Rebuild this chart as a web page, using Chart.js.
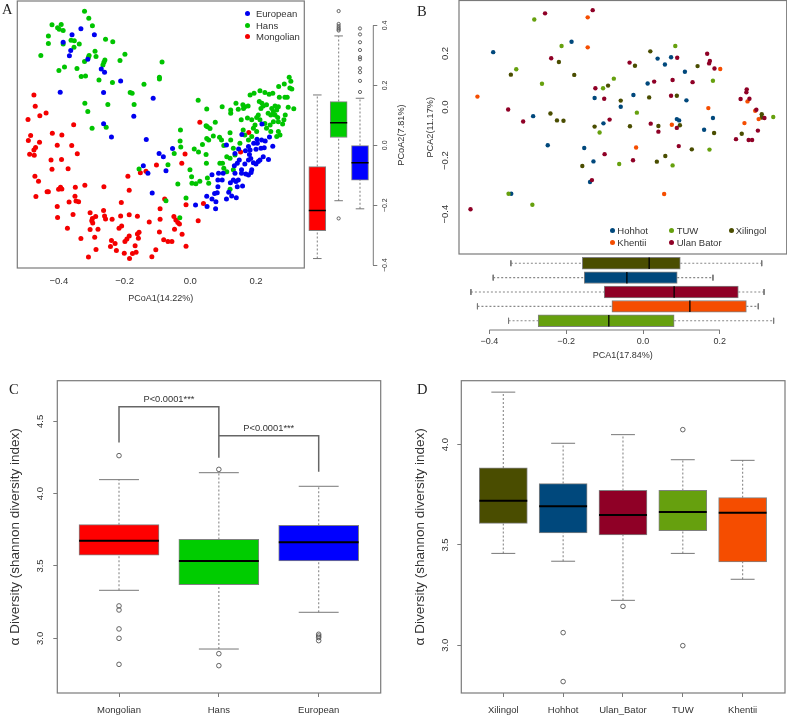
<!DOCTYPE html>
<html>
<head>
<meta charset="utf-8">
<title>Diversity panels</title>
<script src="https://cdn.jsdelivr.net/npm/chart.js@4"></script>
<style>
  html, body { margin: 0; padding: 0; background: #fff; }
  #page { position: relative; width: 787px; height: 716px; overflow: hidden; font-family: "Liberation Sans", Arial, sans-serif; color: #333; }
  canvas { position: absolute; }
  .letter { position: absolute; font: 14.5px "Liberation Serif", serif; color: #222; line-height: 1; }
  .leg { position: absolute; font-size: 9.5px; line-height: 11px; white-space: nowrap; }
  .dot { position: absolute; width: 5px; height: 5px; border-radius: 50%; }
  .vtitle { position: absolute; font-size: 9.2px; white-space: nowrap; transform: translate(-50%, -50%) rotate(-90deg); }
</style>
</head>
<body>
<div id="page">
  <canvas id="a" style="left:0;top:0" width="310" height="310"></canvas>
  <canvas id="a2" style="left:305px;top:0" width="110" height="310"></canvas>
  <canvas id="b" style="left:410px;top:0" width="377" height="255"></canvas>
  <canvas id="b2" style="left:410px;top:255px" width="377" height="115"></canvas>
  <canvas id="c" style="left:0;top:370px" width="400" height="346"></canvas>
  <canvas id="d" style="left:400px;top:370px" width="387" height="346"></canvas>
  <div class="letter" style="left:2px;top:2px">A</div>
  <div class="letter" style="left:417px;top:4px">B</div>
  <div class="letter" style="left:9px;top:382px">C</div>
  <div class="letter" style="left:417px;top:382px">D</div>
  <div class="vtitle" style="left:401px;top:135px">PCoA2(7.81%)</div>
</div>
<script>
// panel A, [PCoA1, PCoA2]
const europeanPoints = [[-.387,.344],[-.360,.369],[-.333,.389],[-.292,.369],[-.364,.316],[-.368,.299],[-.312,.287],[-.271,.255],[-.261,.244],[-.212,.215],[-.396,.177],[-.264,.176],[-.113,.157],[-.172,.097],[-.264,.072],[-.240,.028],[-.134,.019],[-.095,-.027],[-.082,-.038],[-.054,-.011],[-.143,-.068],[-.129,-.093],[-.074,-.085],[-.116,-.159],[.016,-.199],[.050,-.170],[.051,-.204],[.066,-.179],[.078,-.188],[.077,-.212],[.074,-.161],[.082,-.158],[.084,-.138],[.084,-.116],[.097,-.116],[.086,-.093],[.100,-.093],[.066,-.098],[.110,-.179],[.117,-.157],[.126,-.169],[.140,-.175],[.122,-.125],[.131,-.116],[.139,-.121],[.146,-.116],[.143,-.138],[.159,-.136],[.177,-.099],[.169,-.096],[.156,-.082],[.136,-.093],[.156,-.093],[.166,-.062],[.143,-.060],[.134,-.068],[.149,-.049],[.136,-.027],[.110,.001],[.147,-.012],[.157,.036],[.177,-.004],[.168,-.018],[.182,-.016],[.180,-.031],[.184,-.044],[.192,-.058],[.200,-.062],[.207,-.054],[.212,-.049],[.222,-.038],[.238,-.047],[.187,-.082],[.185,-.091],[.218,.071],[.241,.028],[.203,.020],[.217,.018],[.228,.014],[.193,.007],[.251,-.003],[.225,-.008],[.215,-.010],[.204,.007],[.200,-.013],[.177,-.049]];
const hansPoints = [[-.322,.447],[-.309,.424],[-.298,.399],[-.421,.402],[-.393,.403],[-.404,.392],[-.399,.387],[-.387,.383],[-.432,.365],[-.432,.340],[-.363,.351],[-.353,.349],[-.387,.338],[-.338,.338],[-.354,.327],[-.455,.300],[-.258,.354],[-.236,.346],[-.290,.314],[-.308,.300],[-.310,.294],[-.287,.296],[-.322,.280],[-.199,.304],[-.214,.283],[-.086,.278],[-.260,.285],[-.263,.277],[-.266,.268],[-.383,.261],[-.400,.250],[-.345,.256],[-.332,.230],[-.319,.231],[-.278,.218],[-.237,.210],[-.094,.227],[-.094,.221],[-.141,.204],[-.183,.176],[-.177,.174],[-.171,.136],[-.321,.140],[-.251,.136],[-.312,.113],[-.299,.057],[-.256,.060],[.024,.150],[-.030,.051],[-.031,.014],[-.029,-.006],[-.049,-.027],[-.068,-.065],[-.156,-.079],[.012,-.012],[.025,-.022],[.037,.003],[.048,-.031],[.050,.121],[.052,.062],[.060,.056],[.048,.065],[.076,.077],[.050,.023],[.056,.018],[.070,.031],[.089,.027],[.049,-.060],[-.001,-.082],[.004,-.105],[.005,-.127],[.017,-.128],[.029,-.120],[.052,-.109],[.056,-.127],[-.038,-.129],[-.013,-.176],[-.074,-.185],[-.032,-.242],[.097,.129],[.123,.107],[.123,.118],[.139,.140],[.146,.120],[.160,.135],[.166,.129],[.176,.131],[.162,.123],[.155,.085],[.182,.168],[.194,.174],[.212,.182],[.227,.176],[.240,.170],[.269,.196],[.286,.205],[.301,.227],[.306,.214],[.303,.191],[.309,.188],[.251,.174],[.271,.160],[.288,.160],[.295,.160],[.210,.146],[.218,.140],[.222,.131],[.215,.123],[.232,.135],[.248,.123],[.258,.131],[.268,.129],[.263,.118],[.298,.127],[.315,.122],[.289,.101],[.285,.085],[.281,.071],[.253,.112],[.245,.101],[.237,.107],[.258,.101],[.266,.093],[.268,.079],[.253,.079],[.243,.068],[.227,.073],[.212,.085],[.207,.101],[.202,.093],[.174,.091],[.187,.085],[.197,.068],[.192,.057],[.202,.046],[.161,.051],[.232,.057],[.245,.046],[.268,.046],[.273,.034],[.263,.029],[.121,.042],[.123,.018],[.095,.018],[.102,-.001],[.090,-.060],[.111,-.038],[.121,-.043],[.136,-.032],[.151,.007],[.177,.018],[.187,.029],[.166,.034],[.131,-.010],[.098,-.060],[.121,-.147],[.131,-.082],[.111,-.088],[.102,-.077]];
const mongolianPoints = [[-.476,.168],[-.472,.130],[-.458,.099],[-.439,.108],[-.494,.086],[-.355,.069],[-.486,.033],[-.493,.016],[-.420,.040],[-.391,.034],[-.459,.010],[-.471,-.007],[-.476,-.016],[-.489,-.030],[-.475,-.033],[-.405,0],[-.361,-.001],[-.344,-.028],[-.424,-.049],[-.392,-.047],[-.421,-.080],[-.372,-.078],[-.473,-.103],[-.462,-.120],[-.436,-.155],[-.432,-.155],[-.470,-.171],[-.395,-.140],[-.401,-.147],[-.391,-.146],[-.350,-.140],[-.321,-.133],[-.263,-.138],[-.186,-.150],[-.190,-.103],[-.351,-.170],[-.348,-.186],[-.340,-.188],[-.369,-.189],[-.405,-.204],[-.357,-.231],[-.404,-.241],[-.374,-.277],[-.333,-.311],[-.305,-.225],[-.288,-.238],[-.298,-.244],[-.300,-.252],[-.297,-.259],[-.264,-.218],[-.261,-.236],[-.258,-.246],[-.305,-.281],[-.281,-.280],[-.291,-.307],[-.238,-.247],[-.210,-.191],[-.212,-.236],[-.186,-.232],[-.161,-.237],[-.209,-.269],[-.217,-.277],[-.156,-.290],[-.161,-.296],[-.158,-.310],[-.186,-.303],[-.193,-.313],[-.199,-.321],[-.240,-.318],[-.229,-.328],[-.243,-.338],[-.225,-.351],[-.201,-.360],[-.287,-.348],[-.310,-.373],[-.168,-.335],[-.165,-.357],[-.176,-.361],[-.185,-.378],[-.125,-.256],[-.092,-.212],[-.092,-.247],[-.094,-.289],[-.081,-.315],[-.068,-.321],[-.056,-.321],[-.105,-.349],[-.117,-.372],[-.013,-.337],[-.048,-.280],[-.025,-.297],[-.050,-.238],[-.044,-.249],[-.038,-.258],[-.033,-.263],[-.078,-.179],[-.013,-.198],[.024,-.252],[.040,-.194],[-.016,-.029],[-.026,-.060],[-.103,-.066],[-.152,-.092],[-.135,-.087],[.029,.077],[.178,.043],[.153,-.022]];
const aNames = ['European', 'Hans', 'Mongolian'];
const aColors = ['#0000f0', '#00c400', '#f40000'];
const aTicks = [-0.4, -0.2, 0, 0.2];

// panel A marginal boxes, left to right
const a2Colors = ['#ff0000', '#00cc00', '#0000ff'];
const a2Q1 = [-.285, .026, -.116];
const a2Median = [-.218, .075, -.058];
const a2Q3 = [-.071, .146, -.001];
const a2Low = [-.378, -.185, -.212];
const a2High = [.168, .365, .157];
const a2Outliers = [[], [-.244, .383, .387, .392, .398, .405, .448], [.178, .215, .244, .257, .287, .294, .318, .344, .370, .390]];
const a2Ticks = [-0.4, -0.2, 0, 0.2, 0.4];

// panel B, [PCA1, PCA2]
const hohhotPoints = [[-.390,.205],[-.186,.244],[.038,.181],[.057,.159],[.073,.186],[.109,.132],[.012,.088],[-.025,.045],[-.126,.034],[.113,.025],[-.058,.001],[-.286,-.034],[.088,-.045],[.094,-.050],[.182,-.041],[-.103,-.061],[.159,-.085],[-.248,-.143],[-.153,-.153],[-.129,-.203],[-.138,-.280],[-.343,-.324]];
const tuwPoints = [[-.283,.327],[-.212,.228],[.084,.228],[-.330,.141],[-.263,.087],[-.076,.106],[-.104,.070],[.182,.098],[-.016,-.021],[-.113,-.095],[.339,-.037],[.173,-.159],[.077,-.218],[-.062,-.213],[-.350,-.324],[-.288,-.365]];
const xilingolPoints = [[-.344,.121],[-.219,.168],[-.179,.120],[.019,.208],[-.021,.154],[.142,.153],[-.091,.080],[-.058,.024],[.016,.036],[.088,.042],[-.241,-.024],[-.224,-.050],[-.207,-.051],[-.126,-.073],[-.034,-.072],[.040,-.071],[.096,-.068],[.185,-.097],[.257,-.100],[.309,-.027],[.309,-.039],[.127,-.158],[.058,-.183],[.036,-.204],[-.158,-.220]];
const khentiiPoints = [[-.144,.335],[-.144,.223],[-.431,.039],[.201,.142],[.170,-.004],[.272,.021],[.292,-.014],[.301,-.045],[.264,-.060],[.075,-.066],[-.018,-.151],[.055,-.325]];
const ulanPoints = [[-.255,.350],[-.131,.362],[-.239,.182],[-.035,.166],[.089,.184],[.167,.199],[.174,.172],[.172,.163],[.186,.144],[.129,.093],[.077,.101],[.029,.095],[-.124,.070],[-.101,.031],[.073,.042],[.270,.066],[.269,.055],[.254,.030],[.277,.031],[-.351,-.009],[.295,-.010],[.316,-.041],[-.312,-.054],[-.087,-.047],[.020,-.062],[.088,-.078],[.040,-.092],[.299,-.088],[.242,-.120],[.275,-.123],[.284,-.123],[.093,-.146],[-.100,-.176],[-.026,-.199],[-.133,-.273],[-.449,-.382]];
const bNames = ['Hohhot', 'TUW', 'Xilingol', 'Khentii', 'Ulan Bator'];
const bColors = ['#00487c', '#66a00e', '#4a4d00', '#f54d00', '#8f0026'];
const bYTicks = [-0.4, -0.2, 0, 0.2];
const bXTicks = [-0.4, -0.2, 0, 0.2];

// panel B marginal boxes, top to bottom
const b2Colors = ['#4a4d00', '#00487c', '#8f0026', '#f54d00', '#66a00e'];
const b2Q1 = [-.158, -.153, -.101, -.081, -.273];
const b2Median = [.016, -.042, .081, .122, -.089];
const b2Q3 = [.097, .089, .248, .269, .081];
const b2Low = [-.344, -.390, -.448, -.431, -.350];
const b2High = [.309, .182, .315, .300, .340];

// panel C
const cNames = ['Mongolian', 'Hans', 'European'];
const cColors = ['#ff0000', '#00cc00', '#0000ff'];
const cQ1 = [3.574, 3.371, 3.535];
const cMedian = [3.675, 3.535, 3.664];
const cQ3 = [3.786, 3.684, 3.781];
const cLow = [3.332, 2.926, 3.180];
const cHigh = [4.097, 4.145, 4.051];
const cOutliers = [[4.263, 3.224, 3.196, 3.065, 3.0, 2.820], [4.168, 2.894, 2.811], [3.028, 3.016, 3.005, 2.984]];
const cTicks = [3.0, 3.5, 4.0, 4.5];
const bracketOne = [[1, 4.353], [1, 4.601], [2, 4.601], [2, 4.249]];
const bracketTwo = [[2, 4.401], [3, 4.401], [3, 4.152]];
const pLabels = [{ text: 'P<0.0001***', x: 1.5, y: 4.649 }, { text: 'P<0.0001***', x: 2.5, y: 4.449 }];

// panel D
const dNames = ['Xilingol', 'Hohhot', 'Ulan_Bator', 'TUW', 'Khentii'];
const dColors = ['#4a4d00', '#00487c', '#8f0026', '#66a00e', '#f54d00'];
const dQ1 = [3.608, 3.560, 3.550, 3.571, 3.415];
const dMedian = [3.721, 3.693, 3.650, 3.664, 3.661];
const dQ3 = [3.884, 3.806, 3.772, 3.772, 3.736];
const dLow = [3.458, 3.419, 3.224, 3.458, 3.329];
const dHigh = [4.262, 4.007, 4.050, 3.925, 3.922];
const dOutliers = [[], [3.063, 2.819], [3.194], [4.075, 2.998], []];
const dTicks = [3.0, 3.5, 4.0];

const textCol = '#333';
const axisCol = '#7a7a7a';
Chart.defaults.font.family = '"Liberation Sans", Arial, sans-serif';
Chart.defaults.color = textCol;
Chart.defaults.animation = false;
Chart.defaults.responsive = false;
Chart.defaults.plugins.legend.display = false;
Chart.defaults.plugins.tooltip.enabled = false;
Chart.defaults.layout.autoPadding = false;

const minusFmt = v => (v < 0 ? '\u2212' : '') + Math.abs(v).toFixed(1);

// fixed axis box with no label overflow padding, so plot areas land where they should
const fitBox = (key, size) => s => {
  if (key) s[key] = size;
  s.paddingTop = s.paddingBottom = s.paddingLeft = s.paddingRight = 0;
};

// box round the plot area
const framePlugin = {
  id: 'frame',
  beforeDatasetsDraw(chart) {
    const { ctx, chartArea: a } = chart;
    ctx.save();
    ctx.strokeStyle = axisCol;
    ctx.lineWidth = 1.2;
    ctx.strokeRect(a.left, a.top, a.width, a.height);
    ctx.restore();
  }
};

// R style axis line, only from first to last tick
const spinePlugin = {
  id: 'spine',
  afterDraw(chart) {
    const { ctx } = chart;
    const s = chart.options.plugins.spine.axis === 'x' ? chart.scales.x : chart.scales.y;
    const first = s.getPixelForValue(s.ticks[0].value);
    const last = s.getPixelForValue(s.ticks[s.ticks.length - 1].value);
    ctx.save();
    ctx.strokeStyle = axisCol;
    ctx.lineWidth = 1;
    ctx.beginPath();
    if (s.isHorizontal()) {
      ctx.moveTo(first, s.top);
      ctx.lineTo(last, s.top);
    } else {
      ctx.moveTo(s.left, first);
      ctx.lineTo(s.left, last);
    }
    ctx.stroke();
    ctx.restore();
  }
};

const noteLabels = {
  id: 'notes',
  afterDatasetsDraw(chart) {
    const { ctx, scales } = chart;
    ctx.save();
    ctx.font = '9.3px "Liberation Sans"';
    ctx.fillStyle = textCol;
    ctx.textAlign = 'center';
    ctx.textBaseline = 'middle';
    pLabels.forEach(l => ctx.fillText(l.text, scales.x.getPixelForValue(l.x), scales.y.getPixelForValue(l.y)));
    ctx.restore();
  }
};

const toXY = list => list.map(p => ({ x: p[0], y: p[1] }));

// one box plot set: bars for boxes, broken lines for whiskers, caps and medians
function boxDatasets(o) {
  const pt = (pos, val) => (o.horizontal ? { x: val, y: pos } : { x: pos, y: val });
  const gap = (pos) => (o.horizontal ? { x: 0, y: null } : { x: pos, y: null });
  const pos = o.colors.map((c, i) => i + 1);
  const whisk = [], caps = [], meds = [], outs = [];
  pos.forEach((p, i) => {
    whisk.push(pt(p, o.low[i]), pt(p, o.q1[i]), gap(p), pt(p, o.q3[i]), pt(p, o.high[i]), gap(p));
    caps.push(pt(p - 0.2, o.low[i]), pt(p + 0.2, o.low[i]), gap(p), pt(p - 0.2, o.high[i]), pt(p + 0.2, o.high[i]), gap(p));
    meds.push(pt(p - 0.4, o.median[i]), pt(p + 0.4, o.median[i]), gap(p));
    (o.outliers ? o.outliers[i] : []).forEach(v => outs.push(pt(p, v)));
  });
  const line = { type: 'line', pointRadius: 0, fill: false, tension: 0, spanGaps: false };
  return [
    { type: 'scatter', data: outs, pointStyle: 'circle', pointRadius: o.outR || 2.3, pointBackgroundColor: 'rgba(0,0,0,0)', pointBorderColor: '#555', pointBorderWidth: 0.9 },
    { ...line, data: meds, borderColor: '#000', borderWidth: o.medWidth || 2 },
    { type: 'bar', indexAxis: o.horizontal ? 'y' : 'x', data: pos.map((p, i) => (o.horizontal ? { y: p, x: [o.q1[i], o.q3[i]] } : { x: p, y: [o.q1[i], o.q3[i]] })), backgroundColor: o.colors, borderColor: '#808080', borderWidth: 1, borderSkipped: false, barThickness: o.thickness },
    { ...line, data: caps, borderColor: '#777', borderWidth: 1 },
    { ...line, data: whisk, borderColor: '#888', borderWidth: 1.1, borderDash: [2, 2] }
  ];
}

const fixedTicks = list => s => { s.ticks = list.map(v => ({ value: v })); };

// panel A scatter
new Chart(document.getElementById('a'), {
  type: 'scatter',
  data: {
    datasets: [europeanPoints, hansPoints, mongolianPoints].map((pts, i) => ({
      label: aNames[i], data: toXY(pts), backgroundColor: aColors[i], borderColor: aColors[i], pointRadius: 2.5, pointBorderWidth: 0
    }))
  },
  options: {
    layout: { padding: { left: 17.3, right: 5.7, top: 1, bottom: 0 } },
    scales: {
      x: {
        min: -0.5266, max: 0.347,
        afterBuildTicks: fixedTicks(aTicks),
        afterFit: fitBox('height', 42),
        grid: { display: false, drawTicks: false },
        border: { display: false },
        ticks: { font: { size: 9.5 }, padding: 8, callback: minusFmt, maxRotation: 0, autoSkip: false },
        title: { display: true, text: 'PCoA1(14.22%)', font: { size: 9 }, padding: { top: 0, bottom: 6.3 } }
      },
      y: { display: false, min: -0.4095, max: 0.4816, afterFit: fitBox() }
    }
  },
  plugins: [framePlugin]
});

// panel A marginal boxes
new Chart(document.getElementById('a2'), {
  type: 'bar',
  data: { datasets: boxDatasets({ colors: a2Colors, q1: a2Q1, median: a2Median, q3: a2Q3, low: a2Low, high: a2High, outliers: a2Outliers, thickness: 17, outR: 1.6, medWidth: 1.5 }) },
  options: {
    layout: { padding: { top: 1, bottom: 42 } },
    plugins: { spine: { axis: 'y' } },
    scales: {
      x: { type: 'linear', display: false, offset: false, min: 0.424, max: 3.623, afterFit: fitBox() },
      y: {
        type: 'linear', position: 'right', min: -0.4095, max: 0.4816,
        afterBuildTicks: fixedTicks(a2Ticks),
        afterFit: fitBox('width', 41.7),
        grid: { drawOnChartArea: false, tickLength: 4, color: axisCol },
        border: { display: false },
        ticks: { font: { size: 7 }, padding: 1.1, minRotation: 90, maxRotation: 90, crossAlign: 'center', callback: minusFmt, autoSkip: false }
      }
    }
  },
  plugins: [spinePlugin]
});

// panel B scatter
new Chart(document.getElementById('b'), {
  type: 'scatter',
  data: {
    datasets: [ulanPoints, khentiiPoints, xilingolPoints, tuwPoints, hohhotPoints].map((pts, i) => ({
      label: bNames[4 - i], data: toXY(pts), backgroundColor: bColors[4 - i], pointRadius: 2.2, pointBorderWidth: 0
    }))
  },
  options: {
    layout: { padding: { left: 0, right: 0.3, top: 0.5, bottom: 1 } },
    scales: {
      x: { display: false, min: -0.479, max: 0.374, afterFit: fitBox() },
      y: {
        min: -0.549, max: 0.398,
        afterBuildTicks: fixedTicks(bYTicks),
        afterFit: fitBox('width', 49),
        grid: { display: false, drawTicks: false },
        border: { display: false },
        ticks: { font: { size: 9.5 }, padding: 3.9, minRotation: 90, maxRotation: 90, crossAlign: 'center', callback: minusFmt, autoSkip: false },
        title: { display: true, text: 'PCA2(11.17%)', font: { size: 9.2 }, padding: { top: 15, bottom: 0 } }
      }
    }
  },
  plugins: [framePlugin]
});

// panel B marginal boxes
new Chart(document.getElementById('b2'), {
  type: 'bar',
  data: { datasets: boxDatasets({ horizontal: true, colors: b2Colors, q1: b2Q1, median: b2Median, q3: b2Q3, low: b2Low, high: b2High, thickness: 11.7, medWidth: 1.3 }) },
  options: {
    layout: { padding: { left: 49, right: 0.3 } },
    plugins: { spine: { axis: 'x' } },
    scales: {
      x: {
        type: 'linear', offset: false, min: -0.479, max: 0.374,
        afterBuildTicks: fixedTicks(bXTicks),
        afterFit: fitBox('height', 40),
        grid: { offset: false, drawOnChartArea: false, tickLength: 4, color: axisCol },
        border: { display: false },
        ticks: { font: { size: 9 }, padding: 2, callback: minusFmt, maxRotation: 0, autoSkip: false },
        title: { display: true, text: 'PCA1(17.84%)', font: { size: 9 }, padding: { top: 0, bottom: 8.6 } }
      },
      y: { type: 'linear', display: false, offset: false, reverse: true, min: 0.422, max: 5.648, afterFit: fitBox() }
    }
  },
  plugins: [spinePlugin]
});

function diversityOptions(names, ticks, xMin, xMax, yMin, yMax, yWidth, right, tickPad, titlePad) {
  return {
    layout: { padding: { left: 0, right: right, top: 10.7, bottom: 0 } },
    scales: {
      x: {
        type: 'linear', offset: false, min: xMin, max: xMax,
        afterBuildTicks: fixedTicks(names.map((n, i) => i + 1)),
        afterFit: fitBox('height', 23),
        grid: { offset: false, drawOnChartArea: false, tickLength: 4, color: axisCol },
        border: { display: false },
        ticks: { font: { size: 9.5 }, padding: 7.3, maxRotation: 0, autoSkip: false, callback: v => names[v - 1] }
      },
      y: {
        type: 'linear', min: yMin, max: yMax,
        afterBuildTicks: fixedTicks(ticks),
        afterFit: fitBox('width', yWidth),
        grid: { drawOnChartArea: false, tickLength: 4, color: axisCol },
        border: { display: false },
        ticks: { font: { size: 9.5 }, padding: tickPad, minRotation: 90, maxRotation: 90, crossAlign: 'center', autoSkip: false, callback: v => v.toFixed(1) },
        title: { display: true, text: '\u03b1 Diversity (shannon diversity index)', font: { size: 13.5 }, padding: { top: titlePad, bottom: 0 } }
      }
    }
  };
}

// panel C
const bracketLine = { type: 'line', pointRadius: 0, borderColor: '#666', borderWidth: 1.5, tension: 0, fill: false };
new Chart(document.getElementById('c'), {
  type: 'bar',
  data: {
    datasets: [
      { ...bracketLine, data: toXY(bracketOne) },
      { ...bracketLine, data: toXY(bracketTwo) },
      ...boxDatasets({ colors: cColors, q1: cQ1, median: cMedian, q3: cQ3, low: cLow, high: cHigh, outliers: cOutliers, thickness: 80 })
    ]
  },
  options: diversityOptions(cNames, cTicks, 0.382, 3.621, 2.622, 4.781, 57.3, 19.3, 6, 6.9),
  plugins: [framePlugin, noteLabels]
});

// panel D
new Chart(document.getElementById('d'), {
  type: 'bar',
  data: { datasets: boxDatasets({ colors: dColors, q1: dQ1, median: dMedian, q3: dQ3, low: dLow, high: dHigh, outliers: dOutliers, thickness: 48 }) },
  options: diversityOptions(dNames, dTicks, 0.298, 5.708, 2.762, 4.319, 61.3, 2, 5.7, 11.9),
  plugins: [framePlugin]
});

// legends
const page = document.getElementById('page');
function addLegend(name, color, dotX, dotY, textX) {
  const d = document.createElement('div');
  d.className = 'dot';
  d.style.cssText = `left:${dotX - 2.5}px;top:${dotY - 2.5}px;background:${color}`;
  const t = document.createElement('div');
  t.className = 'leg';
  t.textContent = name;
  t.style.cssText = `left:${textX}px;top:${dotY - 5.5}px`;
  page.append(d, t);
}
aNames.forEach((n, i) => addLegend(n, aColors[i], 247, 13.5 + i * 11.5, 256));
[[612.3, 230.7, 617.3], [671.7, 230.7, 676.7], [731.3, 230.7, 735.7], [612.3, 242, 617.3], [671.7, 242, 676.7]]
  .forEach((p, i) => addLegend(bNames[i], bColors[i], p[0], p[1], p[2]));
</script>
</body>
</html>
